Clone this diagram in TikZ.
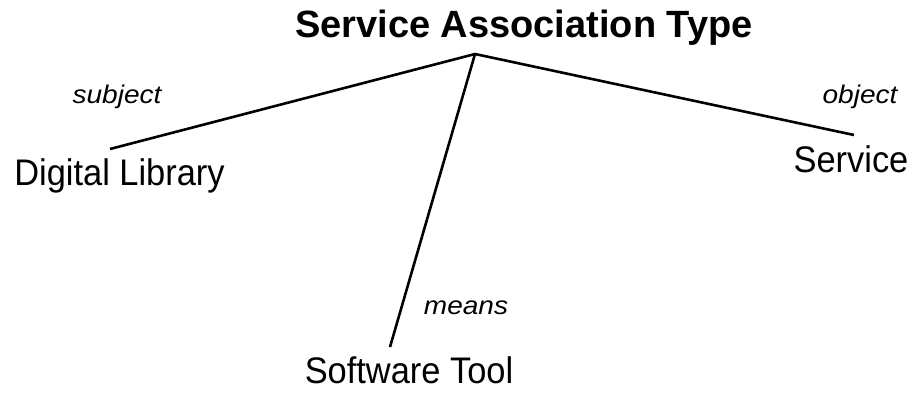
\documentclass[tikz,border=0pt]{standalone}
\usepackage{fontspec}
\setmainfont{Liberation Sans}
\newfontfamily\lblfont{Liberation Sans}[FakeStretch=0.93]
\newfontfamily\rolefont{Liberation Sans}[FakeStretch=1.1,UprightFont=*-Italic]
\begin{document}
\begin{tikzpicture}[x=1pt,y=-1pt,
  lbl/.style={inner sep=0pt,anchor=base,font=\fontsize{37}{44}\lblfont},
  ttl/.style={inner sep=0pt,anchor=base,font=\fontsize{38}{45}\selectfont\bfseries},
  role/.style={inner sep=0pt,anchor=base,font=\fontsize{25.5}{30}\rolefont},
  conn/.style={line width=2.6pt,black}]
\path[use as bounding box,fill=white] (0,0) rectangle (915,394);
\node[ttl] (title) at (524,37) {Service Association Type};
\node[lbl] (dl) at (119.5,185) {Digital Library};
\node[lbl] (svc) at (851,172) {Service};
\node[lbl] (st) at (409,383) {Software Tool};
\node[role] (subj) at (117,103) {subject};
\node[role] (obj) at (860,103) {object};
\node[role] (means) at (466,314) {means};
\coordinate (apex) at (475,54);
\coordinate (dlend) at (110,149);
\coordinate (svcend) at (854,135);
\coordinate (stend) at (390,347);
\draw[conn] (dlend) -- (apex) -- (svcend);
\draw[conn] (apex) -- (stend);
\end{tikzpicture}
\end{document}
